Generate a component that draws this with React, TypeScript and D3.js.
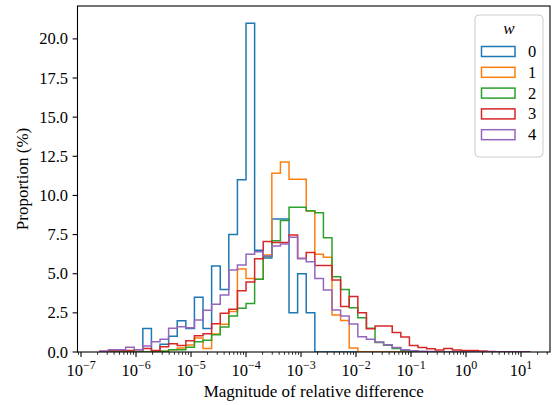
import React from 'react';
import * as d3 from 'd3';

const W = 553;
const H = 405;

// legend categories (w) and colours
const categories = ['0', '1', '2', '3', '4'];
const colors = ['#1f77b4', '#ff7f0e', '#2ca02c', '#d62728', '#9467bd'];

// histogram binning (log10 of first edge, log10 bin width, number of bins)
const binLogStart = -6.658;
const binLogWidth = 0.15636;
const nBins = 50;

// proportions (%) per bin for each w
const w0 = [0, 0, 0, 0, 0, 1.5, 0, 0.5, 1.0, 2.0, 1.5, 3.5, 1.5, 5.5, 4.0, 7.5, 11.0, 21.0, 6.5, 6.0, 8.5, 8.5, 2.5, 5.0, 2.5,
  0, 0, 0, 0, 0, 0, 0, 0, 0, 0, 0, 0, 0, 0, 0, 0, 0, 0, 0, 0, 0, 0, 0, 0, 0];
const w1 = [0, 0, 0, 0, 0, 0, 0, 0.05, 0.15, 0.25, 0.45, 0.9, 0.23, 1.15, 1.77, 2.58, 5.3, 4.7, 4.64, 6.2, 11.42, 12.14, 11.03, 11.03, 9.0,
  6.25, 6.05, 2.36, 2.02, 0.25, 0, 0, 0, 0, 0, 0, 0, 0, 0, 0, 0, 0, 0, 0, 0, 0, 0, 0, 0, 0];
const w2 = [0, 0, 0, 0, 0, 0, 0, 0.05, 0.15, 0.15, 0.3, 0.65, 0.75, 1.1, 1.6, 2.3, 2.8, 3.1, 4.64, 6.1, 7.1, 8.4, 9.25, 9.25, 9.03,
  8.9, 7.3, 4.8, 4.0, 2.83, 2.19, 1.51, 0.6, 0.43, 0.23, 0.1, 0.05, 0, 0, 0, 0, 0, 0, 0, 0, 0, 0, 0, 0, 0];
const w3 = [0.05, 0.1, 0.1, 0.1, 0.15, 0.23, 0.1, 0.34, 0.53, 0.42, 0.72, 1.04, 1.17, 1.8, 2.47, 2.73, 3.92, 4.47, 5.95, 7.05, 7.0, 7.0, 7.48, 5.98, 6.35,
  5.52, 5.52, 4.6, 2.9, 3.54, 2.51, 1.48, 1.66, 1.66, 1.25, 0.96, 0.42, 0.29, 0.2, 0.12, 0.22, 0.12, 0.09, 0.09, 0.06, 0.03, 0.02, 0.01, 0.01, 0.01];
const w4 = [0.05, 0.15, 0.15, 0.3, 0.15, 0.38, 0.66, 0.82, 1.51, 1.62, 1.55, 2.04, 2.66, 3.05, 3.64, 5.24, 5.56, 6.24, 6.41, 6.13, 6.77, 6.9, 7.33, 5.98, 5.77,
  4.7, 3.96, 2.68, 2.3, 1.79, 0.98, 0.81, 0.64, 0.47, 0.28, 0.15, 0.08, 0.05, 0.03, 0, 0, 0, 0, 0, 0, 0, 0, 0, 0, 0];
const seriesValues = [w0, w1, w2, w3, w4];

// axis ticks
const yTicks = [0, 2.5, 5, 7.5, 10, 12.5, 15, 17.5, 20];
const xMajorExps = [-7, -6, -5, -4, -3, -2, -1, 0, 1];

const FONT = "'Liberation Serif', 'DejaVu Serif', serif";

export default function App() {
  const L = 77.5, R = 550, T = 6, B = 352;
  const x = d3.scaleLog().domain([Math.pow(10, -7.064), Math.pow(10, 1.527)]).range([L, R]);
  const y = d3.scaleLinear().domain([0, 22.1]).range([B, T]);
  const edges = d3.range(nBins + 1).map((i) => Math.pow(10, binLogStart + i * binLogWidth));

  const line = d3.line<[number, number]>().x((d) => x(d[0])).y((d) => y(d[1]));
  const stepPath = (vals: number[]) => {
    const pts: [number, number][] = [[edges[0], 0]];
    vals.forEach((v, i) => {
      pts.push([edges[i], v]);
      pts.push([edges[i + 1], v]);
    });
    pts.push([edges[nBins], 0]);
    return line(pts) || '';
  };

  const [dMin, dMax] = x.domain();
  const minorTicks: number[] = [];
  for (let e = -8; e <= 1; e++) {
    for (let s = 2; s <= 9; s++) {
      const v = s * Math.pow(10, e);
      if (v >= dMin && v <= dMax) minorTicks.push(v);
    }
  }

  const legendX = 475, legendY = 15, legendW = 68, legendH = 142;

  return (
    <svg width={W} height={H} style={{ position: 'absolute', left: 0, top: 0, background: '#fff' }} fontFamily={FONT}>
      <rect x={0} y={0} width={W} height={H} fill="#fff" />
      <defs>
        <clipPath id="plotclip">
          <rect x={L} y={T} width={R - L} height={B - T} />
        </clipPath>
      </defs>
      <g clipPath="url(#plotclip)">
        {seriesValues.map((vals, i) => (
          <path key={i} d={stepPath(vals)} fill="none" stroke={colors[i]} strokeWidth={1.5} strokeLinejoin="miter" />
        ))}
      </g>
      {/* y ticks */}
      {yTicks.map((t) => (
        <g key={'y' + t}>
          <line x1={L - 4.9} x2={L} y1={y(t)} y2={y(t)} stroke="#000" strokeWidth={1.1} />
          <text x={L - 9.5} y={y(t) + 5.5} textAnchor="end" fontSize={16.5} fill="#000">{t.toFixed(1)}</text>
        </g>
      ))}
      {/* x ticks */}
      {minorTicks.map((t, i) => (
        <line key={'m' + i} x1={x(t)} x2={x(t)} y1={B} y2={B + 2.8} stroke="#000" strokeWidth={0.8} />
      ))}
      {xMajorExps.map((e) => {
        const px = x(Math.pow(10, e));
        return (
          <g key={'x' + e}>
            <line x1={px} x2={px} y1={B} y2={B + 4.9} stroke="#000" strokeWidth={1.1} />
            <text x={px} y={376} textAnchor="middle" fontSize={16.5} fill="#000">
              <tspan>10</tspan>
              <tspan dy={-7} fontSize={12}>{e < 0 ? '\u2212' + Math.abs(e) : String(e)}</tspan>
            </text>
          </g>
        );
      })}
      {/* spines */}
      <rect x={L} y={T} width={R - L} height={B - T} fill="none" stroke="#000" strokeWidth={1.1} />
      {/* axis labels */}
      <text x={(L + R) / 2} y={397} textAnchor="middle" fontSize={17} fill="#000">Magnitude of relative difference</text>
      <text transform={`translate(28,${(T + B) / 2}) rotate(-90)`} textAnchor="middle" fontSize={17} fill="#000">Proportion (%)</text>
      {/* legend */}
      <rect x={legendX} y={legendY} width={legendW} height={legendH} rx={4} fill="#fff" fillOpacity={0.8} stroke="#cccccc" strokeWidth={1} />
      <text x={legendX + legendW / 2} y={34} textAnchor="middle" fontSize={17} fontStyle="italic" fill="#000">w</text>
      {categories.map((c, i) => {
        const cy = 51.5 + i * 20.8;
        return (
          <g key={'l' + c}>
            <rect x={481.5} y={cy - 5} width={33.5} height={10} fill="none" stroke={colors[i]} strokeWidth={1.5} />
            <text x={528} y={cy + 5.5} fontSize={16.5} fill="#000">{c}</text>
          </g>
        );
      })}
    </svg>
  );
}
